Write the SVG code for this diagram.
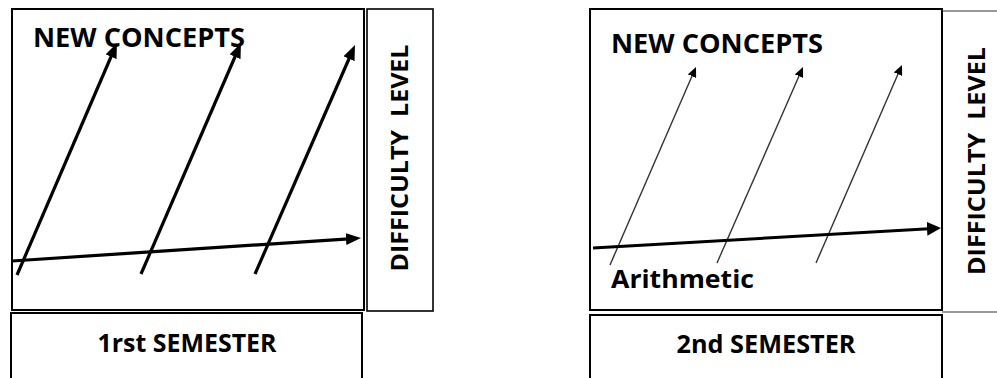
<svg xmlns="http://www.w3.org/2000/svg" width="997" height="378" viewBox="0 0 997 378">
<style>
.box{fill:#fff;stroke:#000;stroke-width:2}
.thin{fill:none;stroke:#333;stroke-width:1.2}
.lbl{font-family:"Open Sans","Liberation Sans",Arial,sans-serif;font-weight:bold;fill:#000}
.thick{fill:none;stroke:#000;stroke-width:3.2}
.fine{fill:none;stroke:#333;stroke-width:1.4}
.mid{fill:none;stroke:#000;stroke-width:3}
</style>
<defs>
<marker id="hBig" markerUnits="userSpaceOnUse" markerWidth="15" markerHeight="12" refX="3" refY="6" orient="auto" viewBox="0 0 15 12"><path d="M0,0 L15,6 L0,12 z" fill="#000"/></marker>
<marker id="hSmall" markerUnits="userSpaceOnUse" markerWidth="10" markerHeight="9" refX="2" refY="4.5" orient="auto" viewBox="0 0 10 9"><path d="M0,0 L10,4.5 L0,9 z" fill="#000"/></marker>
<marker id="hMid" markerUnits="userSpaceOnUse" markerWidth="14" markerHeight="14" refX="2" refY="7" orient="auto" viewBox="0 0 14 14"><path d="M0,0 L14,7 L0,14 z" fill="#000"/></marker>
</defs>
<g id="panel1">
<rect class="box" x="12" y="9" width="352" height="301"/>
<text class="lbl" x="33" y="47" font-size="26" textLength="212" lengthAdjust="spacingAndGlyphs">NEW CONCEPTS</text>
</g>
<g id="difficulty1">
<rect class="box" x="367" y="9" width="66" height="302" style="stroke-width:1.6"/>
<text class="lbl" font-size="24" text-anchor="middle" transform="translate(408,158) rotate(-90)" textLength="227" lengthAdjust="spacingAndGlyphs" xml:space="preserve">DIFFICULTY  LEVEL</text>
</g>
<g id="semester1">
<path class="box" d="M11,378 V313 H362 V378" fill="none"/>
<text class="lbl" x="187" y="352" font-size="25" text-anchor="middle" textLength="179" lengthAdjust="spacingAndGlyphs">1rst SEMESTER</text>
</g>
<g id="panel2">
<rect class="box" x="590" y="9" width="352" height="301"/>
<text class="lbl" x="611" y="53" font-size="26" textLength="212" lengthAdjust="spacingAndGlyphs">NEW CONCEPTS</text>
<text class="lbl" x="611" y="288" font-size="25" textLength="143" lengthAdjust="spacingAndGlyphs">Arithmetic</text>
</g>
<g id="difficulty2">
<path class="thin" d="M942,11 H997 M942,312 H997"/>
<text class="lbl" font-size="24" text-anchor="middle" transform="translate(985,161) rotate(-90)" textLength="228" lengthAdjust="spacingAndGlyphs" xml:space="preserve">DIFFICULTY  LEVEL</text>
</g>
<g id="semester2">
<path class="box" d="M590,378 V315 H942 V378" fill="none"/>
<text class="lbl" x="766" y="353" font-size="25" text-anchor="middle" textLength="179" lengthAdjust="spacingAndGlyphs">2nd SEMESTER</text>
</g>
<g id="connectors">
<path class="thick" d="M17,275 L112.2,54" marker-end="url(#hBig)"/>
<path class="thick" d="M141,274 L236.2,54" marker-end="url(#hBig)"/>
<path class="thick" d="M255,274 L350.2,56" marker-end="url(#hBig)"/>
<path class="thick" d="M12,261 L349,238.8" marker-end="url(#hBig)"/>
<path class="fine" d="M610,265 L692.8,74.3" marker-end="url(#hSmall)"/>
<path class="fine" d="M717,263 L799.8,74.3" marker-end="url(#hSmall)"/>
<path class="fine" d="M816,263 L898.8,72.3" marker-end="url(#hSmall)"/>
<path class="mid" d="M593,248 L929,228.7" marker-end="url(#hMid)"/>
</g>
</svg>
